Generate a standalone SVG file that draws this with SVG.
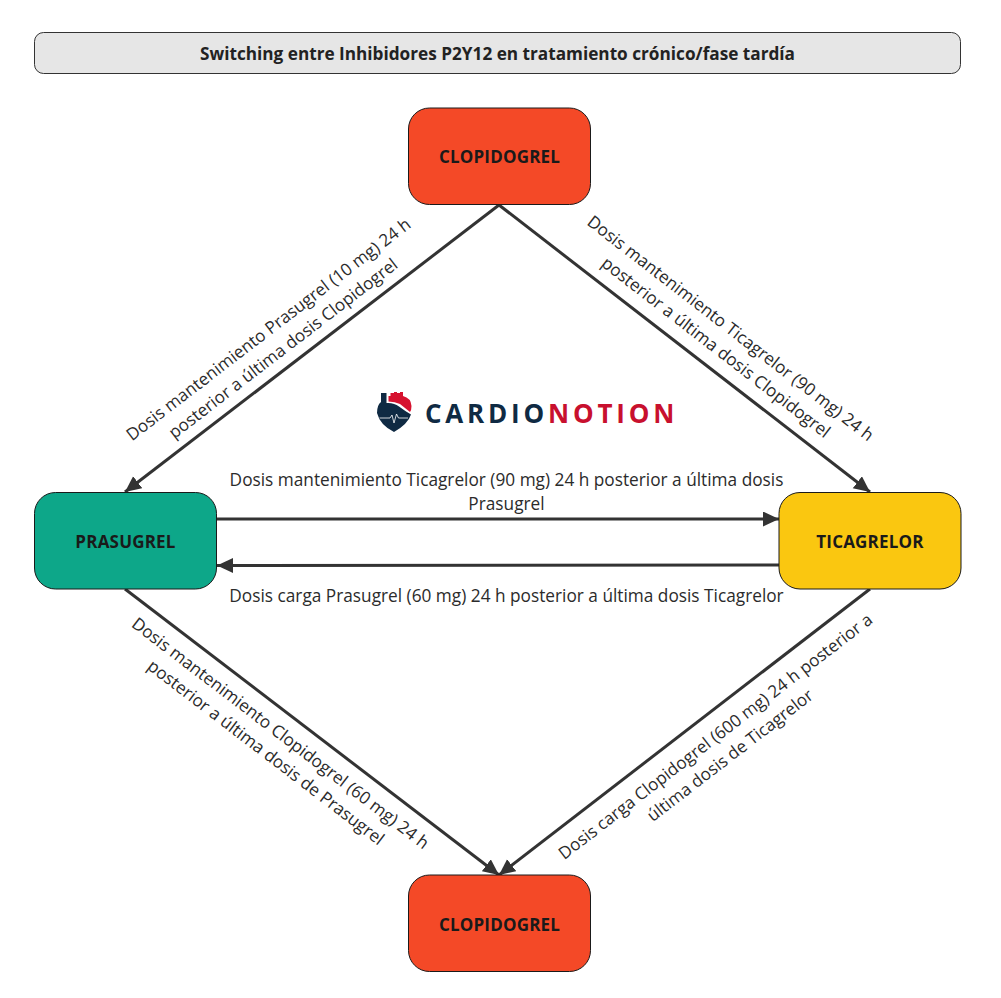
<svg xmlns="http://www.w3.org/2000/svg" width="1001" height="998" viewBox="0 0 1001 998">
<style>
text{font-family:"Open Sans","Noto Sans","Liberation Sans",sans-serif;text-anchor:middle}
.n{stroke:#1a1a1a;stroke-width:1}
.nt{font-size:17px;font-weight:700;fill:#1a1a1a;letter-spacing:.2px}
.l{font-size:17.25px;fill:#2b2b2b}
.d{font-size:17.1px;fill:#2b2b2b}
.c{fill:none;stroke:#333;stroke-width:3;marker-end:url(#a)}
</style>
<defs><marker id="a" markerUnits="userSpaceOnUse" markerWidth="18" markerHeight="16" refX="16" refY="7.500" orient="auto"><path d="M0 0L16 7.500L0 15Z" fill="#333"/></marker></defs>
<rect width="1001" height="998" fill="#fff"/>
<g id="title"><rect x="34.500" y="32.500" width="926" height="41" rx="9" fill="#e6e6e6" stroke="#333" stroke-width="1"/><text x="497.500" y="59.500" style="font-size:17.200px;font-weight:700;fill:#222">Switching entre Inhibidores P2Y12 en tratamiento crónico/fase tardía</text></g>
<g id="connectors">
<path class="c" d="M499 205L125 492"/>
<path class="c" d="M499 205L870 492"/>
<path class="c" d="M217 519H779"/>
<path class="c" d="M779 565L217 565.500"/>
<path class="c" d="M125 589L499 875"/>
<path class="c" d="M870 589L499 875"/>
</g>
<g id="labels">
<g transform="translate(272 334) rotate(-37.500)"><text class="d" x="0" y="0">Dosis mantenimiento Prasugrel (10 mg) 24 h</text><text class="d" x="0" y="24">posterior a última dosis Clopidogrel</text></g>
<g transform="translate(727 333) rotate(37.700)"><text class="d" x="0" y="0">Dosis mantenimiento Ticagrelor (90 mg) 24 h</text><text class="d" x="0" y="24">posterior a última dosis Clopidogrel</text></g>
<text class="l" x="506.500" y="485.700">Dosis mantenimiento Ticagrelor (90 mg) 24 h posterior a última dosis</text>
<text class="l" x="506.500" y="509.700">Prasugrel</text>
<text class="l" x="506.500" y="601.700">Dosis carga Prasugrel (60 mg) 24 h posterior a última dosis Ticagrelor</text>
<g transform="translate(277 738) rotate(37.400)"><text class="d" x="0" y="0">Dosis mantenimiento Clopidogrel (60 mg) 24 h</text><text class="d" x="0" y="24">posterior a última dosis de Prasugrel</text></g>
<g transform="translate(719 741) rotate(-37.600)"><text class="d" x="0" y="0">Dosis carga Clopidogrel (600 mg) 24 h posterior a</text><text class="d" x="0" y="24">última dosis de Ticagrelor</text></g>
</g>
<g id="logo">
<path d="M381 393H386.500V403Q394 402.500 399 406.500Q405 411 411 414.500Q408 424 394 432Q380 425 377 413Q377 405 381 402Z" fill="#0f2a43"/>
<path d="M388.500 401.500V396H390.500V393H394V392H397V393H400V392H403V396Q411 398 411.500 406Q411.500 410 410 412Q405 408 400 404Q395 401.500 388.500 401.500Z" fill="#d6122f"/>
<path d="M379.500 418H390L392 415L394 423L396.500 414L398.500 418H408" fill="none" stroke="#fff" stroke-width=".8"/>
<text x="425" y="422.500" style="text-anchor:start;font-size:26px;font-weight:700;letter-spacing:3.800px;fill:#0f2a43">CARDIO<tspan fill="#c8102e">NOTION</tspan></text>
</g>
<g id="clopidogrel-top"><rect class="n" x="408.500" y="108" width="182" height="96.500" rx="21" fill="#f44927"/><text class="nt" x="499.500" y="162.500">CLOPIDOGREL</text></g>
<g id="prasugrel"><rect class="n" x="34.500" y="492.500" width="182" height="96.500" rx="21" fill="#0da789"/><text class="nt" x="125.500" y="547.500">PRASUGREL</text></g>
<g id="ticagrelor"><rect class="n" x="779" y="492.500" width="182" height="96.500" rx="21" fill="#fac710"/><text class="nt" x="870" y="547.500">TICAGRELOR</text></g>
<g id="clopidogrel-bottom"><rect class="n" x="408.500" y="875" width="182" height="96.500" rx="21" fill="#f44927"/><text class="nt" x="499.500" y="930.500">CLOPIDOGREL</text></g>
</svg>
